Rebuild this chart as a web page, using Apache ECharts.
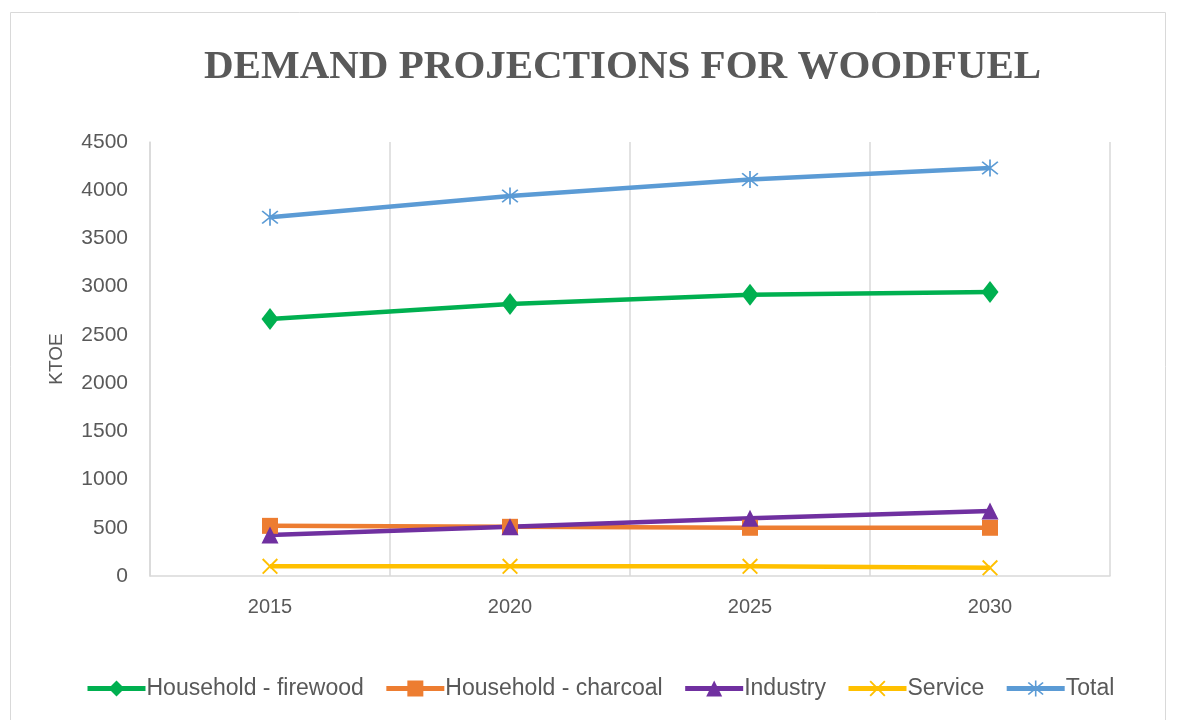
<!DOCTYPE html>
<html>
<head>
<meta charset="utf-8">
<script src="https://cdn.jsdelivr.net/npm/echarts@6/dist/echarts.min.js"></script>
<style>
  html, body { margin: 0; padding: 0; background: #fff; }
  #chart { width: 1179px; height: 720px; }
</style>
</head>
<body>
<div id="chart"></div>
<script>
const years = ['2015', '2020', '2025', '2030']
const firewood = [2665, 2820, 2915, 2945]
const charcoal = [520, 510, 500, 500]
const industry = [425, 510, 600, 675]
const service = [100, 100, 100, 85]
const total = [3720, 3940, 4110, 4230]
const yTicks = [0, 500, 1000, 1500, 2000, 2500, 3000, 3500, 4000, 4500]

// marker shapes Excel uses for x and star
const xMark = 'path://M1,2.5 L2.5,1 L19,17.5 L17.5,19 Z M17.5,1 L19,2.5 L2.5,19 L1,17.5 Z'
const starMark = 'path://M9.2,0 L10.8,0 L10.8,20 L9.2,20 Z M2,3.2 L3.2,2 L18,16.8 L16.8,18 Z M16.8,2 L18,3.2 L3.2,18 L2,16.8 Z'

const chart = echarts.init(document.getElementById('chart'))

const makeSeries = (name, data, color, symbol, size) => ({
  name,
  type: 'line',
  data,
  symbol,
  symbolSize: size,
  lineStyle: { width: 4.5, color },
  itemStyle: { color },
  emphasis: { disabled: true }
})

chart.setOption({
  animation: false,
  title: {
    text: 'DEMAND PROJECTIONS FOR WOODFUEL',
    left: 199,
    top: 42,
    textStyle: {
      fontFamily: 'Liberation Serif',
      fontWeight: 'bold',
      fontSize: 41,
      color: '#595959'
    }
  },
  graphic: [{
    type: 'rect',
    shape: { x: 10.5, y: 12.5, width: 1155, height: 720 },
    style: { fill: 'none', stroke: '#D9D9D9', lineWidth: 1 },
    silent: true
  }],
  grid: { left: 150, right: 69, top: 142, bottom: 144 },
  legend: {
    left: 80,
    top: 672,
    itemWidth: 58,
    itemHeight: 20,
    itemGap: 20,
    lineStyle: { width: 5 },
    textStyle: { fontFamily: 'Liberation Sans', fontSize: 23, color: '#595959', padding: [0, 0, 0, -4] }
  },
  xAxis: {
    type: 'category',
    data: years,
    boundaryGap: true,
    axisLine: { lineStyle: { color: '#D9D9D9', width: 1.5 } },
    axisTick: { show: false },
    splitLine: { show: true, lineStyle: { color: '#D9D9D9', width: 1.5 } },
    axisLabel: { fontFamily: 'Liberation Sans', fontSize: 20, color: '#595959', margin: 21 }
  },
  yAxis: {
    type: 'value',
    min: yTicks[0],
    max: yTicks[yTicks.length - 1],
    interval: 500,
    name: 'KTOE',
    nameLocation: 'middle',
    nameGap: 84,
    nameTextStyle: { fontFamily: 'Liberation Sans', fontSize: 19, color: '#595959' },
    axisLine: { show: true, lineStyle: { color: '#D9D9D9', width: 1.5 } },
    axisTick: { show: false },
    splitLine: { show: false },
    axisLabel: { fontFamily: 'Liberation Sans', fontSize: 21, color: '#595959', margin: 22, formatter: v => String(v) }
  },
  series: [
    makeSeries('Household - firewood', firewood, '#00B050', 'diamond', [17, 22]),
    makeSeries('Household - charcoal', charcoal, '#ED7D31', 'rect', 16),
    makeSeries('Industry', industry, '#7030A0', 'triangle', 17),
    makeSeries('Service', service, '#FFC000', xMark, 16),
    makeSeries('Total', total, '#5B9BD5', starMark, 17)
  ]
})
</script>
</body>
</html>
